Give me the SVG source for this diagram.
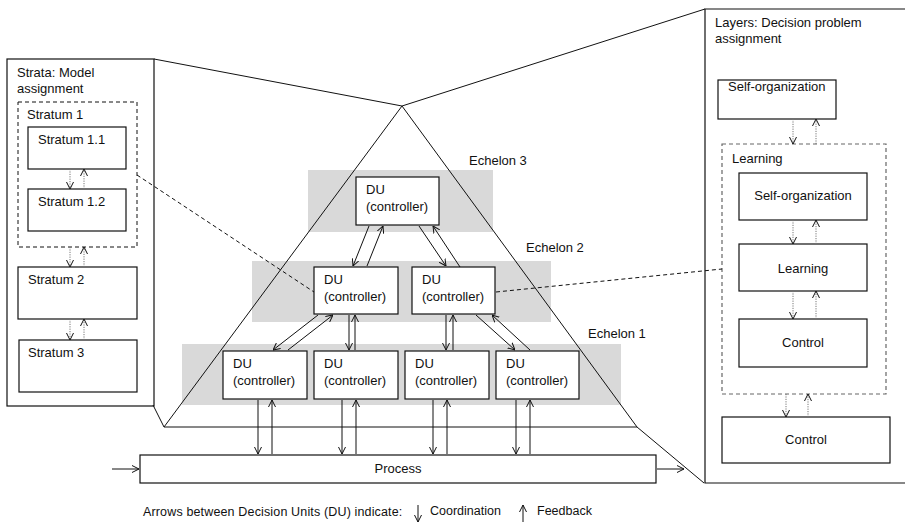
<svg xmlns="http://www.w3.org/2000/svg" width="905" height="524" viewBox="0 0 905 524">
<style>
text{font-family:"Liberation Sans",Arial,sans-serif;font-size:13px;fill:#111}
.box{fill:#fff;stroke:#111;stroke-width:1.2}
.band{fill:#d9d9d9;stroke:none}
.ln{fill:none;stroke:#111;stroke-width:1}
.dash{fill:none;stroke:#111;stroke-width:1;stroke-dasharray:4,3}
.gdash{fill:none;stroke:#666;stroke-width:1.2;stroke-dasharray:4,3}
.arr{fill:none;stroke:#111;stroke-width:1;marker-end:url(#ah)}
.dot{fill:none;stroke:#777;stroke-width:1;stroke-dasharray:1.2,1.2;marker-end:url(#ah)}
.c{text-anchor:middle}
.lg{font-size:12.5px}
</style>
<defs>
<marker id="ah" viewBox="0 0 7 8" refX="7" refY="4" markerWidth="7" markerHeight="8" markerUnits="userSpaceOnUse" orient="auto">
<path d="M0,0.5 L7,4 L0,7.5" fill="none" stroke="#111" stroke-width="1"/>
</marker>
</defs>
<rect width="905" height="524" fill="#fff"/>

<g id="bands">
<rect class="band" x="308" y="170" width="185" height="62"/>
<rect class="band" x="252" y="261" width="299" height="61"/>
<rect class="band" x="182" y="344" width="439" height="61"/>
</g>

<g id="frame">
<polyline class="ln" points="154,59 402,106 705,9"/>
<polyline class="ln" points="153,405 164,427 637,427 704,483"/>
<polyline class="ln" points="164,427 402,106 637,427"/>
</g>

<g id="left-panel">
<rect x="7" y="59" width="147" height="347" fill="none" stroke="#111" stroke-width="1.2"/>
<text x="17" y="77">Strata: Model</text>
<text x="17" y="93">assignment</text>
<g id="stratum1">
<rect class="dash" x="18" y="102" width="119" height="145"/>
<text x="27" y="119">Stratum 1</text>
</g>
<g id="stratum11"><rect class="box" x="28" y="127" width="98" height="42"/><text x="38" y="144">Stratum 1.1</text></g>
<g id="stratum12"><rect class="box" x="28" y="189" width="98" height="42"/><text x="38" y="206">Stratum 1.2</text></g>
<g id="stratum2"><rect class="box" x="18" y="267" width="119" height="52"/><text x="28" y="284">Stratum 2</text></g>
<g id="stratum3"><rect class="box" x="19" y="340" width="118" height="52"/><text x="28" y="357">Stratum 3</text></g>
</g>

<g id="right-panel">
<polyline points="912,9 705,9 705,483 912,483" fill="none" stroke="#111" stroke-width="1.2"/>
<text x="715" y="27">Layers: Decision problem</text>
<text x="715" y="43">assignment</text>
<g id="selforg-top"><rect class="box" x="718" y="80" width="118" height="39"/><text x="728" y="91">Self-organization</text></g>
<g id="learning-group">
<rect class="gdash" x="722" y="144" width="164" height="250"/>
<text x="732" y="163">Learning</text>
</g>
<g id="selforg-inner"><rect class="box" x="739" y="173" width="128" height="47"/><text class="c" x="803" y="200">Self-organization</text></g>
<g id="learning-inner"><rect class="box" x="739" y="244" width="128" height="47"/><text class="c" x="803" y="273">Learning</text></g>
<g id="control-inner"><rect class="box" x="739" y="319" width="128" height="48"/><text class="c" x="803" y="347">Control</text></g>
<g id="control-bottom"><rect class="box" x="722" y="417" width="168" height="46"/><text class="c" x="806" y="444">Control</text></g>
</g>

<g id="du3"><rect class="box" x="356" y="177" width="83" height="48"/><text x="366" y="194">DU</text><text x="366" y="211">(controller)</text></g>
<g id="du2a"><rect class="box" x="314" y="267" width="84" height="47"/><text x="324" y="284">DU</text><text x="324" y="301">(controller)</text></g>
<g id="du2b"><rect class="box" x="412" y="267" width="83" height="47"/><text x="422" y="284">DU</text><text x="422" y="301">(controller)</text></g>
<g id="du1a"><rect class="box" x="223" y="351" width="84" height="48"/><text x="233" y="368">DU</text><text x="233" y="385">(controller)</text></g>
<g id="du1b"><rect class="box" x="314" y="351" width="84" height="48"/><text x="324" y="368">DU</text><text x="324" y="385">(controller)</text></g>
<g id="du1c"><rect class="box" x="405" y="351" width="84" height="48"/><text x="415" y="368">DU</text><text x="415" y="385">(controller)</text></g>
<g id="du1d"><rect class="box" x="496" y="351" width="83" height="48"/><text x="506" y="368">DU</text><text x="506" y="385">(controller)</text></g>
<g id="process"><rect class="box" x="140" y="455" width="516" height="28"/><text class="c" x="398" y="473">Process</text></g>

<g id="labels">
<text x="469" y="165">Echelon 3</text>
<text x="526" y="252">Echelon 2</text>
<text x="588" y="338">Echelon 1</text>
</g>

<g id="connectors">
<line class="arr" x1="369" y1="226" x2="353" y2="266"/>
<line class="arr" x1="367" y1="266" x2="383" y2="226"/>
<line class="arr" x1="419" y1="226" x2="446" y2="266"/>
<line class="arr" x1="460" y1="267" x2="433" y2="226"/>
<line class="arr" x1="318" y1="315" x2="273" y2="350"/>
<line class="arr" x1="288" y1="350" x2="333" y2="315"/>
<line class="arr" x1="349" y1="315" x2="349" y2="350"/>
<line class="arr" x1="355" y1="350" x2="355" y2="315"/>
<line class="arr" x1="446" y1="315" x2="446" y2="350"/>
<line class="arr" x1="453" y1="350" x2="453" y2="315"/>
<line class="arr" x1="476" y1="315" x2="515" y2="350"/>
<line class="arr" x1="530" y1="350" x2="492" y2="315"/>
<line class="arr" x1="258" y1="400" x2="258" y2="454"/>
<line class="arr" x1="272" y1="454" x2="272" y2="400"/>
<line class="arr" x1="342" y1="400" x2="342" y2="454"/>
<line class="arr" x1="356" y1="454" x2="356" y2="400"/>
<line class="arr" x1="433" y1="400" x2="433" y2="454"/>
<line class="arr" x1="447" y1="454" x2="447" y2="400"/>
<line class="arr" x1="516" y1="400" x2="516" y2="454"/>
<line class="arr" x1="530" y1="454" x2="530" y2="400"/>
<line class="arr" x1="112" y1="469" x2="139" y2="469"/>
<line class="arr" x1="657" y1="469" x2="684" y2="469"/>
<line class="dash" x1="137" y1="175" x2="314" y2="292"/>
<line class="dash" x1="496" y1="292" x2="722" y2="269"/>
<line class="dot" x1="70" y1="169" x2="70" y2="189"/>
<line class="dot" x1="84" y1="189" x2="84" y2="169"/>
<line class="dot" x1="70" y1="247" x2="70" y2="267"/>
<line class="dot" x1="84" y1="267" x2="84" y2="247"/>
<line class="dot" x1="70" y1="319" x2="70" y2="340"/>
<line class="dot" x1="84" y1="340" x2="84" y2="319"/>
<line class="dot" x1="793" y1="119" x2="793" y2="144"/>
<line class="dot" x1="816" y1="144" x2="816" y2="119"/>
<line class="dot" x1="793" y1="220" x2="793" y2="244"/>
<line class="dot" x1="816" y1="244" x2="816" y2="220"/>
<line class="dot" x1="793" y1="291" x2="793" y2="319"/>
<line class="dot" x1="816" y1="319" x2="816" y2="291"/>
<line class="dot" x1="786" y1="394" x2="786" y2="417"/>
<line class="dot" x1="808" y1="417" x2="808" y2="394"/>
</g>

<g id="legend">
<text class="lg" x="143" y="516" style="letter-spacing:0.15px">Arrows between Decision Units (DU) indicate:</text>
<line class="arr" x1="418" y1="505" x2="418" y2="522"/>
<text class="lg" x="430" y="515">Coordination</text>
<line class="arr" x1="523" y1="522" x2="523" y2="505"/>
<text class="lg" x="537" y="515">Feedback</text>
</g>
</svg>
